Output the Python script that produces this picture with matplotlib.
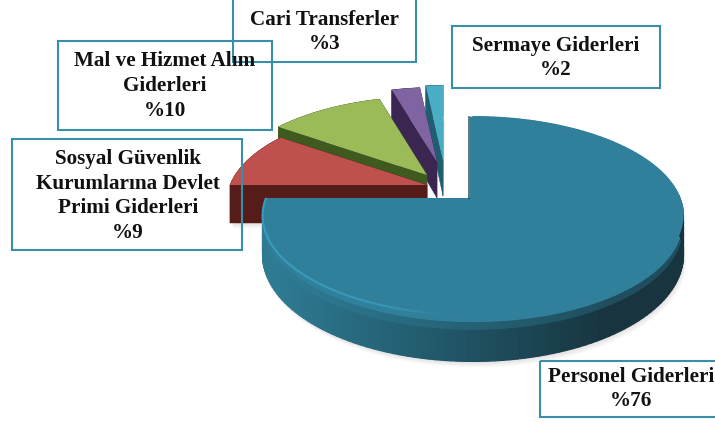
import numpy as np
import matplotlib
matplotlib.use('Agg')
import matplotlib.pyplot as plt
from matplotlib.collections import PolyCollection, LineCollection
from matplotlib.patches import Rectangle

plt.rcParams['font.family'] = ['Liberation Serif', 'DejaVu Serif']

# data
categories = ['Personel Giderleri', 'Sosyal Güvenlik\nKurumlarına Devlet\nPrimi Giderleri',
              'Mal ve Hizmet Alım\nGiderleri', 'Cari Transferler', 'Sermaye Giderleri']
value_labels = ['%76', '%9', '%10', '%3', '%2']
# slice sizes as they look in the picture (the printed labels are rounded)
shares = [75.0, 9.7, 10.8, 2.8, 1.7]

# look of every slice (same order as shares)
top_colors = ['#30809b', '#be504d', '#9bbb59', '#8064a2', '#4bacc6']
side_colors = ['#17343f', '#561c1a', '#3f5a1e', '#3a2650', '#1f5d70']
centers = [(473, 198), (427, 185), (427, 175), (437, 162), (443, 160)]
apexes = [(470, 198), (427, 185), (427, 175), (437, 162), (443, 160)]
radii = [207, 197, 200, 190, 190]
depths = [38, 38, 38, 36, 36]
label_pos = [(631, 389), (128, 196), (165, 86), (325, 32), (556, 58)]
boxes = [(540, 361, 720, 417), (12, 139, 242, 250), (58, 41, 272, 130),
         (233, -5, 416, 62), (452, 26, 660, 88)]

BOX_COLOR = '#3a8fa8'
TILT = 96
PERSP = 0.18


def hex_rgb(c):
    return np.array(matplotlib.colors.to_rgb(c))


def project(theta, center, radius, z=0.0):
    # theta clockwise from 12 o'clock, tilted disc with some perspective
    u, v = np.sin(theta), np.cos(theta)
    w = 1 + PERSP * v
    return center[0] + radius * u / w, center[1] - TILT * radius / 207 * v / w + z / w


def draw_side(x0, y0, x1, y1, color):
    quads = [[(x0[i], y0[i]), (x0[i + 1], y0[i + 1]), (x1[i + 1], y1[i + 1]), (x1[i], y1[i])]
             for i in range(len(x0) - 1)]
    ax.add_collection(PolyCollection(quads, facecolors=color, edgecolors=color, linewidths=0.3))


fig = plt.figure(figsize=(7.15, 4.23), dpi=100)
ax = fig.add_axes([0, 0, 1, 1])
ax.set_xlim(0, 715)
ax.set_ylim(423, 0)
ax.axis('off')

edges = np.cumsum([0] + shares) / sum(shares) * 2 * np.pi
slices = []
for i in range(len(shares)):
    th = np.linspace(edges[i], edges[i + 1], 160 if i == 0 else 40)
    slices.append(th)

# draw from the back to the front
for i in [4, 3, 2, 1, 0]:
    th, c, r, d = slices[i], centers[i], radii[i], depths[i]
    a = apexes[i]
    rx, ry = project(th, c, r)
    bx, by = project(th, c, r, d)
    px = np.r_[a[0], rx, a[0]]
    py = np.r_[a[1], ry, a[1]]
    pb = np.r_[a[1] + d, by, a[1] + d]
    if i == 0:
        # square off the top of the cut edge
        px = np.r_[a[0], a[0], rx, a[0]]
        py = np.r_[a[1], ry[0], ry, a[1]]

    # soft shadow
    for s in range(1, 7):
        ax.fill(np.r_[a[0], bx + s * 0.5], np.r_[a[1] + d, by + s], color='k', alpha=0.018, lw=0)

    if i == 0:
        # rim of the big slice: dark at the right, lighter to the left, blurred into the top
        top = hex_rgb(top_colors[0])
        mid = hex_rgb('#1f5060')
        dark = hex_rgb(side_colors[0])
        rows = np.linspace(0, 1, 7)
        quads, cols = [], []
        for j in range(len(rows) - 1):
            x0, y0 = project(th, c, r, d * rows[j])
            x1, y1 = project(th, c, r, d * rows[j + 1])
            for k in range(len(th) - 1):
                quads.append([(x0[k], y0[k]), (x0[k + 1], y0[k + 1]), (x1[k + 1], y1[k + 1]), (x1[k], y1[k])])
                base = np.array([np.interp(x0[k], [280, 480, 610], [top[n] * 0.95, mid[n], dark[n]])
                                 for n in range(3)])
                b = np.clip(rows[j] / 0.25, 0, 1)
                cols.append(top * (1 - b) + base * b)
        ax.add_collection(PolyCollection(quads, facecolors=cols, edgecolors=cols, linewidths=0.9))
    else:
        draw_side(px, py, px, pb, side_colors[i])

    ax.fill(px, py, color=top_colors[i], lw=0)

# light highlight along the front left rim, fading to the right
th = np.linspace(slices[0][-1], np.radians(180), 60)
hx, hy = project(th, centers[0], radii[0])
segs = [[(hx[k], hy[k]), (hx[k + 1], hy[k + 1])] for k in range(len(th) - 1)]
alphas = np.interp(hx[:-1], [262, 380, 445], [0.9, 0.7, 0.0])
ax.add_collection(LineCollection(segs, colors=[(0.23, 0.63, 0.76, v) for v in alphas], linewidths=1.5))

# dark thin cut edge of the big slice
ax.plot([apexes[0][0] - 1] * 2, [117, 198], color=side_colors[0], lw=1.2, alpha=0.8)

# label boxes, no fill: they lie over the pie and over each other
for (x0, y0, x1, y1) in boxes:
    ax.add_patch(Rectangle((x0, y0), x1 - x0, y1 - y0, fill=False, ec=BOX_COLOR, lw=1.5))

for name, val, pos in zip(categories, value_labels, label_pos):
    ax.text(pos[0], pos[1], name + '\n' + val, ha='center', va='center', fontsize=15.2,
            fontweight='bold', color='#111111', linespacing=1.31)

fig.savefig('out.png', dpi=100)
